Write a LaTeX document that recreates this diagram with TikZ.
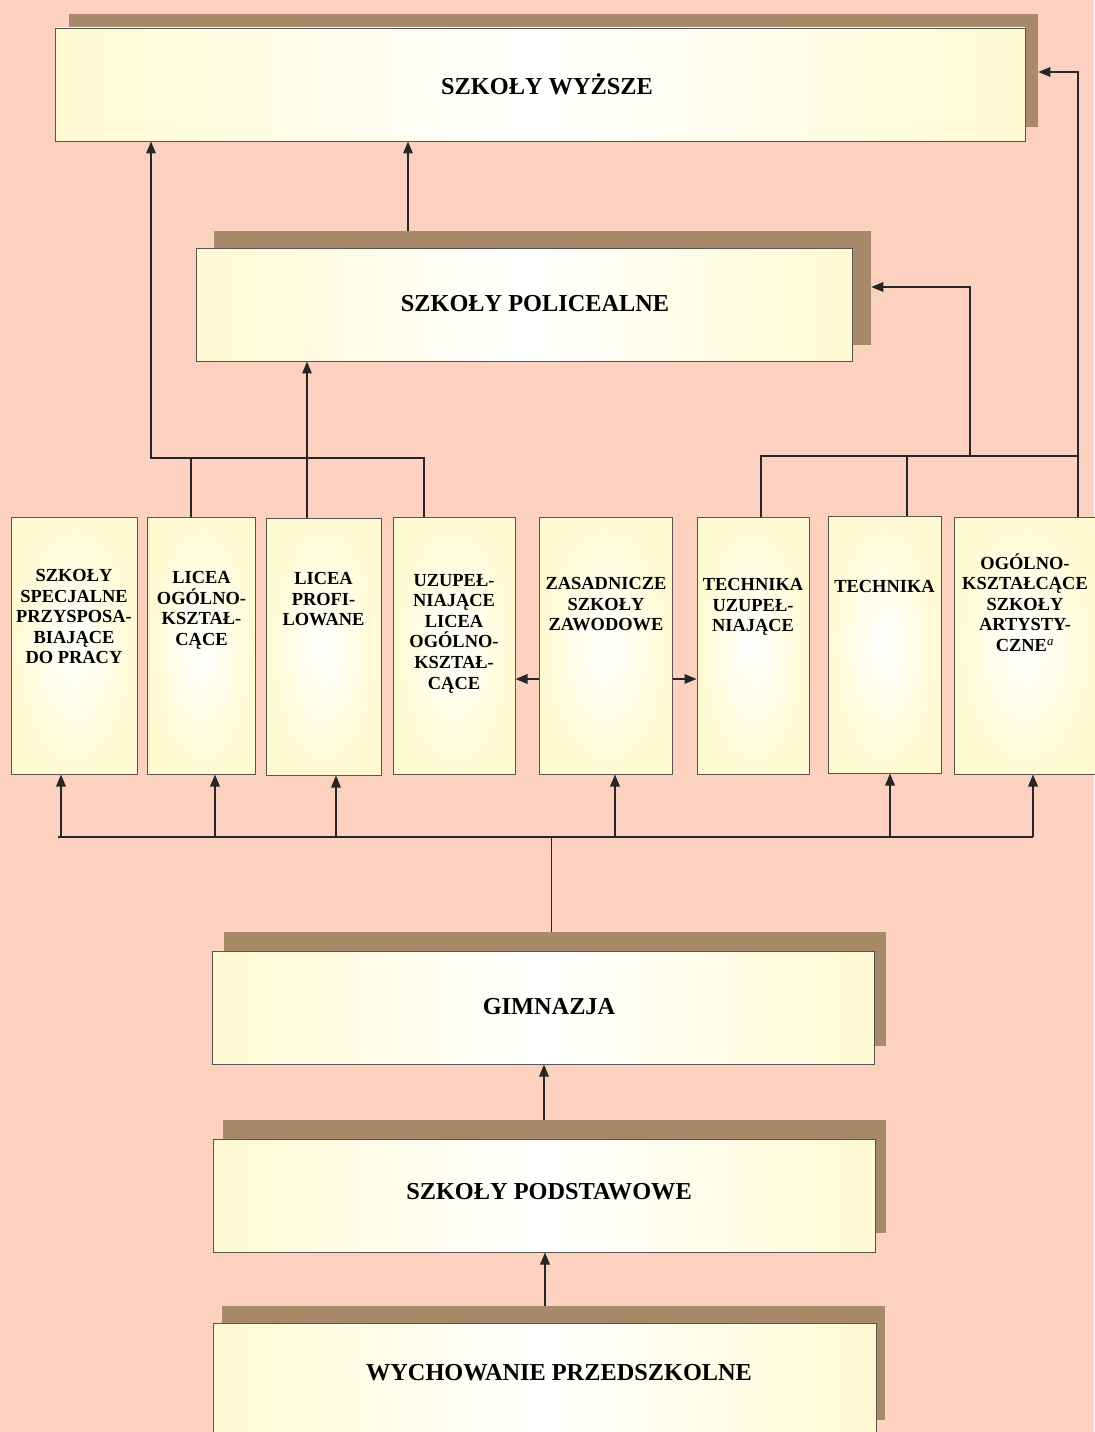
\documentclass[tikz,border=0pt]{standalone}
\usepackage{fontspec}
\setmainfont{Liberation Serif}
\usetikzlibrary{arrows.meta,positioning,calc}
\pgfdeclarelayer{bg}
\pgfdeclarelayer{wires}
\pgfsetlayers{bg,wires,main}
\definecolor{pagebg}{RGB}{252,209,192}
\definecolor{shadebrown}{RGB}{168,138,106}
\definecolor{boxedge}{RGB}{255,250,210}
\definecolor{boxline}{RGB}{85,85,85}
\newcommand{\pu}{0.025cm}

\begin{document}
\begin{tikzpicture}[x=\pu,y=-\pu,
   >={Triangle[length=3mm,width=2.4mm]},
   hdr/.style 2 args={draw=boxline,line width=0.7pt,left color=boxedge,right color=boxedge,
      middle color=white,inner sep=0pt,minimum width=#1*\pu,minimum height=#2*\pu},
   hdrtxt/.style={inner sep=0pt,text height=11.4pt,text depth=0pt,
      font=\fontsize{17.3}{20}\selectfont\bfseries},
   shd/.style 2 args={fill=shadebrown,inner sep=0pt,minimum width=#1*\pu,minimum height=#2*\pu},
   col/.style={draw=boxline,line width=0.7pt,inner color=white,outer color=boxedge,
      inner sep=0pt,minimum height=257*\pu,minimum width=#1*\pu},
   coltxt/.style={align=center,anchor=north,inner sep=0pt,
      font=\fontsize{13.1}{14.6}\selectfont\bfseries},
   link/.style={line width=1pt,black!85},
   arr/.style={link,->},
   thinlink/.style={line width=0.6pt,black!85}]
  % page
  \begin{pgfonlayer}{bg}
    \fill[pagebg] (0,0) rectangle (1094,1432);
  \end{pgfonlayer}
  \useasboundingbox (0,0) rectangle (1094,1432);
  % upper tiers
  \node[shd={969}{113}] (wyzS) at (553.5,71) {};
  \node[hdr={970}{113}] (wyz) at (540,84.5) {};
  \node[hdrtxt] (wyzT) at (547,86) {SZKOŁY WYŻSZE};
  \node[shd={657}{114}] (polS) at (542.5,288) {};
  \node[hdr={656}{113}] (pol) at (524,304.5) {};
  \node[hdrtxt] (polT) at (535,303) {SZKOŁY POLICEALNE};
  % secondary schools
  \node[col=126] (c1) at (74,645.5) {};
  \node[col=108] (c2) at (201.5,645.5) {};
  \node[col=115] (c3) at (323.5,646.5) {};
  \node[col=122] (c4) at (454,645.5) {};
  \node[col=133] (c5) at (606,645.5) {};
  \node[col=112] (c6) at (753,645.5) {};
  \node[col=113] (c7) at (884.5,644.5) {};
  \node[col=142] (c8) at (1025,645.5) {};
  \node[coltxt] (t1) at (74,569) {SZKOŁY\\SPECJALNE\\PRZYSPOSA-\\BIAJĄCE\\DO PRACY};
  \node[coltxt] (t2) at (201.5,571) {LICEA\\OGÓLNO-\\KSZTAŁ-\\CĄCE};
  \node[coltxt] (t3) at (323.5,572) {LICEA\\PROFI-\\LOWANE};
  \node[coltxt] (t4) at (454,574) {UZUPEŁ-\\NIAJĄCE\\LICEA\\OGÓLNO-\\KSZTAŁ-\\CĄCE};
  \node[coltxt] (t5) at (606,577) {ZASADNICZE\\SZKOŁY\\ZAWODOWE};
  \node[coltxt] (t6) at (753,578) {TECHNIKA\\UZUPEŁ-\\NIAJĄCE};
  \node[coltxt] (t7) at (884.5,580) {TECHNIKA};
  \node[coltxt] (t8) at (1025,553) {OGÓLNO-\\KSZTAŁCĄCE\\SZKOŁY\\ARTYSTY-\\CZNE\textsuperscript{\mdseries\itshape a}};
  % lower tiers
  \node[shd={662}{114}] (gimS) at (555,989) {};
  \node[hdr={662}{113}] (gim) at (543,1007.5) {};
  \node[hdrtxt] (gimT) at (549,1006) {GIMNAZJA};
  \node[shd={663}{113}] (podS) at (554.5,1176.5) {};
  \node[hdr={662}{113}] (pod) at (544,1195.5) {};
  \node[hdrtxt] (podT) at (549,1191) {SZKOŁY PODSTAWOWE};
  \node[shd={663}{114}] (przS) at (553.5,1363) {};
  \node[hdr={663}{113}] (prz) at (545,1379.5) {};
  \node[hdrtxt] (przT) at (559,1372) {WYCHOWANIE PRZEDSZKOLNE};
  % junctions
  \coordinate (jL) at (151,458);
  \coordinate (jA) at (191,458);
  \coordinate (jB) at (424,458);
  \coordinate (jC) at (307,458);
  \coordinate (jD) at (408,200);
  \coordinate (jE) at (761,456);
  \coordinate (jF) at (907,456);
  \coordinate (jG) at (970,456);
  \coordinate (jH) at (1078,456);
  \coordinate (kG) at (970,287);
  \coordinate (kH) at (1078,72);
  \coordinate (hY) at (0,679);
  \coordinate (bus) at (551,837);
  \begin{pgfonlayer}{wires}
    % towards higher schools
    \draw[arr] (jA |- c2.north) -- (jA) -- (jL) -- (jL |- wyz.south);
    \draw[link] (jB |- c4.north) -- (jB) -- (jA);
    \draw[arr] (jC |- c3.north) -- (jC |- pol.south);
    \draw[arr] (jD |- pol.north) -- (jD |- wyz.south);
    \draw[link] (jE |- c6.north) -- (jE) -- (jH);
    \draw[link] (jF |- c7.north) -- (jF);
    \draw[arr] (jG) -- (kG) -- (kG -| polS.east);
    \draw[arr] (jH |- c8.north) -- (kH) -- (kH -| wyzS.east);
    % side passages
    \draw[arr] (c5.west |- hY) -- (c4.east |- hY);
    \draw[arr] (c5.east |- hY) -- (c6.west |- hY);
    % from gimnazjum
    \draw[thinlink] (gimS.north -| bus) -- (bus);
    \foreach \c/\x in {c1/61,c2/215,c3/336,c5/615,c7/890,c8/1033}
      \coordinate (b\c) at (\x,837);
    \draw[link] ([xshift=-3*\pu]bc1) -- (bc8);
    \foreach \c in {c1,c2,c3,c5,c7,c8}
      \draw[arr] (b\c) -- (b\c |- \c.south);
    % lower chain
    \draw[arr] (podS.north -| pod.north) -- (gim.south -| pod.north);
    \draw[arr] (przS.north -| prz.north) -- (pod.south -| prz.north);
  \end{pgfonlayer}
\end{tikzpicture}
\end{document}
